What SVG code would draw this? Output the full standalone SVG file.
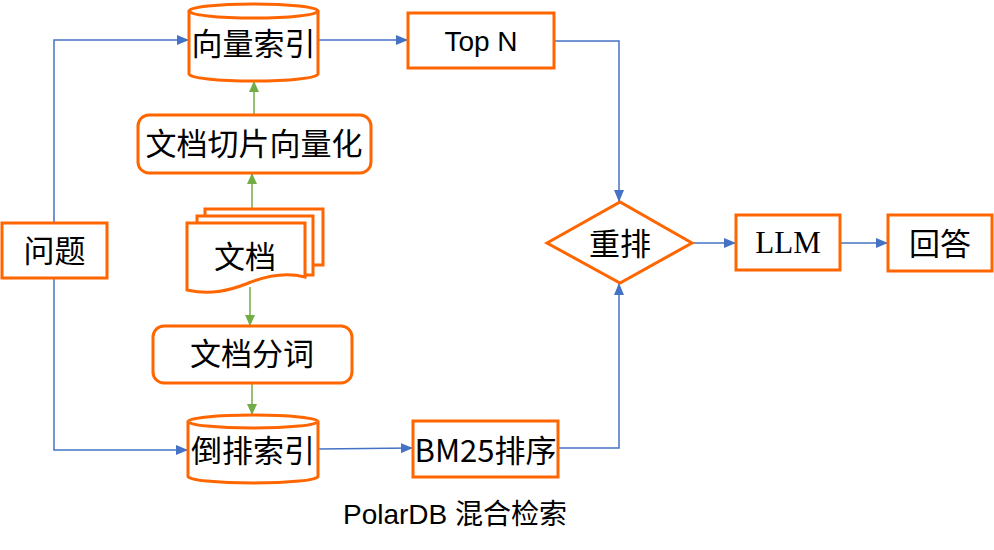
<svg xmlns="http://www.w3.org/2000/svg" width="994" height="550" viewBox="0 0 994 550">
<style>
.box{fill:#fff;stroke:#FF6600;stroke-width:3}
.blue{fill:none;stroke:#4472C4;stroke-width:1.5}
.green{fill:none;stroke:#70AD47;stroke-width:1.5}
.cjk{font-family:"Noto Sans CJK SC","Noto Sans",sans-serif;font-size:31px;fill:#000;text-anchor:middle;dominant-baseline:central}
.lat{font-family:"Liberation Sans","Noto Sans CJK SC",sans-serif;fill:#000;text-anchor:middle;dominant-baseline:central}
.ser{font-family:"Liberation Serif",serif;fill:#000;text-anchor:middle;dominant-baseline:central}
</style>
<defs>
<marker id="ab" markerUnits="userSpaceOnUse" markerWidth="12" markerHeight="10" refX="12" refY="5" orient="auto"><path d="M0,0 L12,5 L0,10 z" fill="#4472C4"/></marker>
<marker id="ag" markerUnits="userSpaceOnUse" markerWidth="11" markerHeight="10" refX="11" refY="5" orient="auto"><path d="M0,0 L11,5 L0,10 z" fill="#70AD47"/></marker>
</defs>
<rect width="994" height="550" fill="#fff"/>
<g id="connectors">
<path class="blue" d="M54,223 V40 H189" marker-end="url(#ab)"/>
<path class="blue" d="M54,278 V450 H188" marker-end="url(#ab)"/>
<path class="blue" d="M318,40 H408" marker-end="url(#ab)"/>
<path class="blue" d="M554,41 H619 V202" marker-end="url(#ab)"/>
<path class="blue" d="M318,449 L413,448" marker-end="url(#ab)"/>
<path class="blue" d="M558,448 H619 V283" marker-end="url(#ab)"/>
<path class="blue" d="M692,243 H736" marker-end="url(#ab)"/>
<path class="blue" d="M840,243 H888" marker-end="url(#ab)"/>
<path class="green" d="M254,115 V81" marker-end="url(#ag)"/>
<path class="green" d="M252,209 V173" marker-end="url(#ag)"/>
<path class="green" d="M250,287 V326" marker-end="url(#ag)"/>
<path class="green" d="M252,383 V415" marker-end="url(#ag)"/>
</g>
<g id="vec-index">
<path class="box" d="M189,11 A64.5,7 0 0 1 318,11 V74 A64.5,7 0 0 1 189,74 Z"/>
<path class="box" fill="none" d="M189,11 A64.5,7 0 0 0 318,11"/>
<text class="cjk" x="253.5" y="41">向量索引</text>
</g>
<g id="topn">
<rect class="box" x="408" y="13" width="146" height="55"/>
<text class="lat" x="481" y="41" font-size="28">Top N</text>
</g>
<g id="vectorize">
<rect class="box" x="138" y="115" width="233" height="58" rx="11"/>
<text class="cjk" x="254" y="141">文档切片向量化</text>
</g>
<g id="docs">
<path class="box" fill="none" d="M205,216 V209 H323 V265 H313"/>
<path class="box" fill="none" d="M197,223 V216 H313 V275 H305"/>
<path class="box" d="M187,223 H305 V277 C285,272 265,276 246,284 C228,291 210,295 187,290 Z"/>
<text class="cjk" x="245" y="254">文档</text>
</g>
<g id="tokenize">
<rect class="box" x="153" y="326" width="199" height="57" rx="11"/>
<text class="cjk" x="252" y="351">文档分词</text>
</g>
<g id="inv-index">
<path class="box" d="M188,421.5 A65,6.5 0 0 1 318,421.5 V476.5 A65,6.5 0 0 1 188,476.5 Z"/>
<path class="box" fill="none" d="M188,421.5 A65,6.5 0 0 0 318,421.5"/>
<text class="cjk" x="253" y="448">倒排索引</text>
</g>
<g id="bm25">
<rect class="box" x="413" y="421" width="145" height="56"/>
<text class="cjk" x="485.5" y="448">BM25排序</text>
</g>
<g id="question">
<rect class="box" x="2" y="223" width="105" height="55"/>
<text class="cjk" x="54.5" y="248">问题</text>
</g>
<g id="rerank">
<path class="box" d="M547,243 L620,202 L692,243 L620,283 Z"/>
<text class="cjk" x="620" y="241">重排</text>
</g>
<g id="llm">
<rect class="box" x="736" y="215" width="104" height="55"/>
<text class="ser" x="788" y="242" font-size="31">LLM</text>
</g>
<g id="answer">
<rect class="box" x="888" y="215" width="104" height="56"/>
<text class="cjk" x="940" y="241">回答</text>
</g>
<text class="lat" x="455" y="514" font-size="28">PolarDB 混合检索</text>
</svg>
